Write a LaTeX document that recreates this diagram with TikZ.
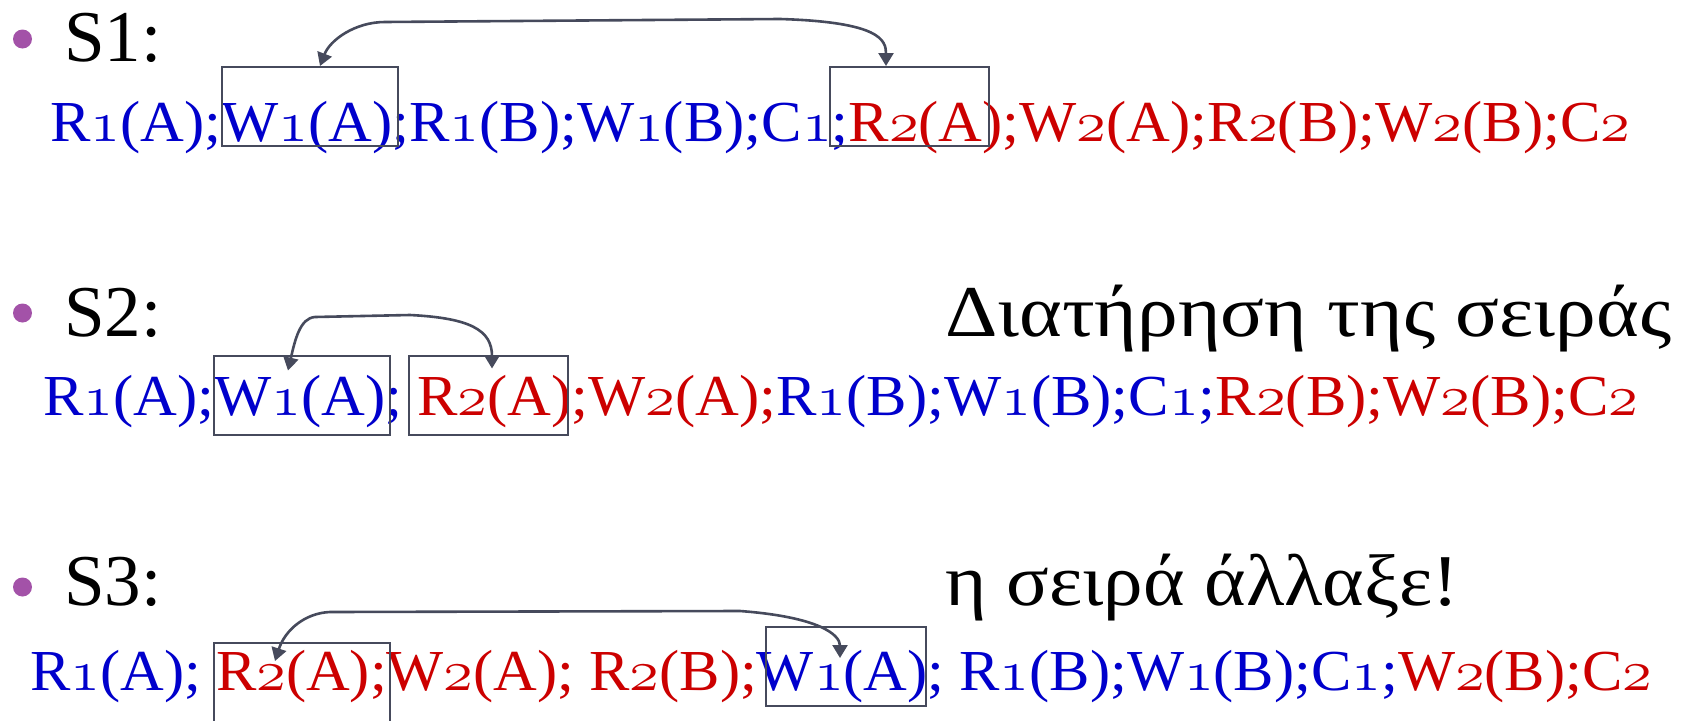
\RequirePackage{fix-cm}
\documentclass[tikz,border=0pt]{standalone}
\usepackage{fontspec}
\setmainfont{Liberation Serif}
\usetikzlibrary{positioning, arrows.meta}

\definecolor{opblue}{RGB}{0,0,204}
\definecolor{opred}{RGB}{204,0,0}
\definecolor{slate}{RGB}{70,74,92}
\definecolor{dotpurple}{RGB}{163,82,168}

% old style digits for the operations
\newcommand{\od}[1]{{\usefont{OML}{cmm}{m}{it}#1}}
\newcommand{\tA}[1]{\textcolor{opblue}{#1}}
\newcommand{\tB}[1]{\textcolor{opred}{#1}}
\newcommand{\squeeze}[2]{\resizebox{#1}{\height}{#2}}

\begin{document}
\begin{tikzpicture}[x=1pt, y=-1pt, >=stealth,
	dot/.style={circle, fill=dotpurple, inner sep=0pt, minimum size=19pt},
	head/.style={anchor=base west, inner sep=0pt, font=\fontsize{73}{80}\selectfont},
	ops/.style={anchor=base west, inner sep=0pt, font=\fontsize{58}{64}\selectfont},
	opbox/.style={draw=slate, line width=2pt, inner sep=0pt, minimum height=79pt},
	link/.style={draw=slate, line width=2.6pt, {Triangle[length=13pt,width=15pt]}-{Triangle[length=13pt,width=15pt]}}
	]
	\useasboundingbox (0,0) rectangle (1688,720);
	\fill[white] (0,0) rectangle (1688,720);

	%S1
	\node[dot]	(d1) at (22.5,39) {};
	\node[head]	(h1) at (64,61) {S1:};
	\node[ops]	(r1) at (50,141) {\squeeze{1580pt}{\tA{R\od{1}(A);W\od{1}(A);R\od{1}(B);W\od{1}(B);C\od{1};}\tB{R\od{2}(A);W\od{2}(A);R\od{2}(B);W\od{2}(B);C\od{2}}}};
	\node[opbox, minimum width=176pt]	(s1w) at (310,106.5) {};
	\node[opbox, minimum width=159pt]	(s1r) at (909.5,106.5) {};
	\draw[link] ([xshift=10pt]s1w.north) .. controls (330,40) and (355,22) .. (385,22) -- (780,19) .. controls (880,22) and (886,40) .. ([xshift=-23.5pt]s1r.north);

	%S2
	\node[dot]	(d2) at (22.5,313) {};
	\node[head]	(h2) at (64,336) {S2:};
	\node[head]	(g2) at (945,336) {\squeeze{726pt}{Διατήρηση της σειράς}};
	\node[ops]	(r2) at (43,415) {\squeeze{1595pt}{\tA{R\od{1}(A);W\od{1}(A); }\tB{R\od{2}(A);W\od{2}(A);}\tA{R\od{1}(B);W\od{1}(B);C\od{1};}\tB{R\od{2}(B);W\od{2}(B);C\od{2}}}};
	\node[opbox, minimum width=176pt]	(s2w) at (302,395) {};
	\node[opbox, minimum width=159pt]	(s2r) at (488.5,395) {};
	\draw[link] ([shift={(-14,16)}]s2w.north) .. controls (295,340) and (300,318) .. (315,317) -- (410,315) .. controls (470,318) and (492,330) .. ([shift={(3.5,14)}]s2r.north);

	%S3
	\node[dot]	(d3) at (22.5,587) {};
	\node[head]	(h3) at (64,605) {S3:};
	\node[head]	(g3) at (945,605) {\squeeze{514pt}{η σειρά άλλαξε!}};
	\node[ops]	(r3) at (30,690) {\squeeze{1622pt}{\tA{R\od{1}(A); }\tB{R\od{2}(A);W\od{2}(A); R\od{2}(B);}\tA{W\od{1}(A); R\od{1}(B);W\od{1}(B);C\od{1};}\tB{W\od{2}(B);C\od{2}}}};
	\node[opbox, minimum width=176pt, minimum height=80pt]	(s3r) at (302,683) {};
	\node[opbox, minimum width=160pt]	(s3w) at (846,666.5) {};
	\draw[link] ([shift={(-27,19)}]s3r.north) .. controls (285,630) and (305,613) .. (330,612) -- (740,611) .. controls (820,617) and (840,635) .. ([shift={(-6,32)}]s3w.north);
\end{tikzpicture}
\end{document}
